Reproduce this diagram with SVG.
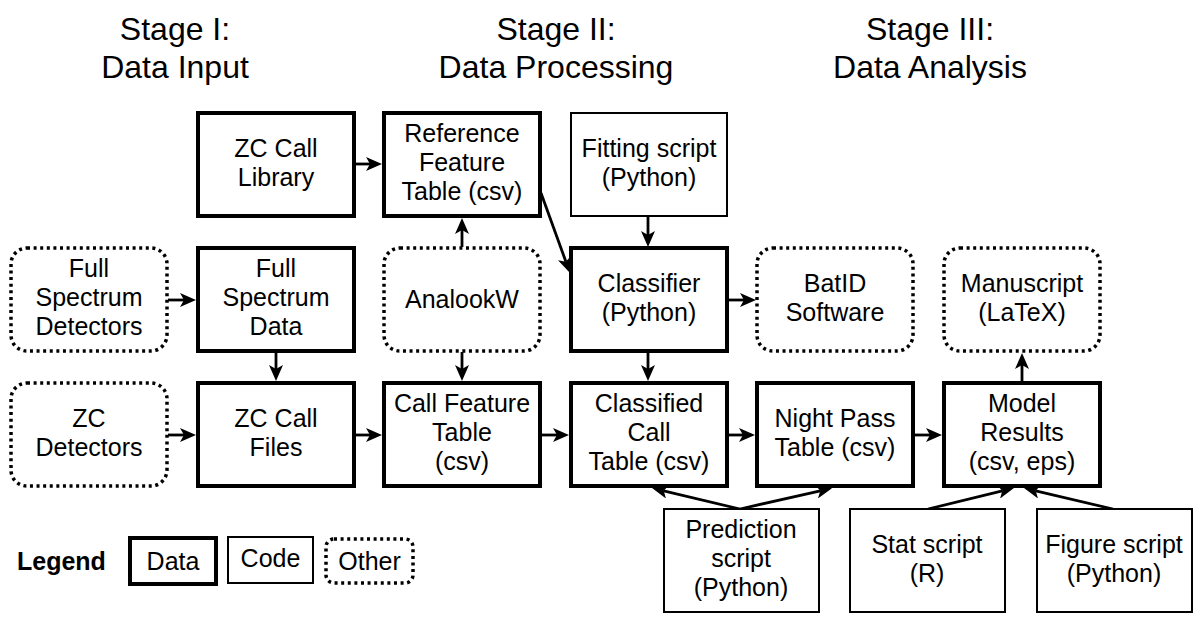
<svg xmlns="http://www.w3.org/2000/svg" width="1200" height="636" viewBox="0 0 1200 636">
<style>
text{font-family:"Liberation Sans",Arial,Helvetica,sans-serif;fill:#000;text-anchor:middle}
.t{font-size:25px}
.title{font-size:32px}
.data{fill:#fff;stroke:#000;stroke-width:4}
.code{fill:#fff;stroke:#000;stroke-width:2}
.other{fill:#fff;stroke:#000;stroke-width:3.5;stroke-dasharray:3 3.6}
.c line{stroke:#000;stroke-width:2.8;marker-end:url(#ah)}
</style>
<defs>
<marker id="ah" viewBox="0 0 16 14" refX="4" refY="7" markerWidth="16" markerHeight="14" markerUnits="userSpaceOnUse" orient="auto">
<path d="M0,0 L16,7 L0,14 L4,7 Z" fill="#000"/>
</marker>
</defs>
<rect width="1200" height="636" fill="#fff"/>
<g id="titles">
<text class="title" x="175" y="40">Stage I:</text>
<text class="title" x="175" y="78">Data Input</text>
<text class="title" x="556" y="40">Stage II:</text>
<text class="title" x="556" y="78">Data Processing</text>
<text class="title" x="930" y="40">Stage III:</text>
<text class="title" x="930" y="78">Data Analysis</text>
</g>
<g class="c" id="connectors">
<line x1="356" y1="164" x2="370" y2="164"/>
<line x1="168" y1="300" x2="184" y2="300"/>
<line x1="276" y1="353" x2="276" y2="369"/>
<line x1="168" y1="435" x2="184" y2="435"/>
<line x1="356" y1="435" x2="370" y2="435"/>
<line x1="462" y1="247" x2="462" y2="230"/>
<line x1="462" y1="352" x2="462" y2="369"/>
<line x1="542" y1="435" x2="557" y2="435"/>
<line x1="541" y1="193" x2="565.9" y2="261.7"/>
<line x1="648" y1="217" x2="648" y2="235"/>
<line x1="728" y1="300" x2="744" y2="300"/>
<line x1="648" y1="353" x2="648" y2="369"/>
<line x1="729" y1="435" x2="743" y2="435"/>
<line x1="915" y1="435" x2="930" y2="435"/>
<line x1="1022" y1="381" x2="1022" y2="365"/>
<line x1="740" y1="509" x2="663.7" y2="490.8"/>
<line x1="740" y1="509" x2="820.3" y2="490.8"/>
<line x1="928" y1="509" x2="1002.3" y2="490.8"/>
<line x1="1113" y1="509" x2="1035.7" y2="490.8"/>
</g>
<g id="zc-call-library"><rect class="data" x="198" y="113" width="156" height="103"/><text class="t" x="276" y="157">ZC Call</text><text class="t" x="276" y="186">Library</text></g>
<g id="reference-feature-table"><rect class="data" x="384" y="113" width="156" height="103"/><text class="t" x="462" y="142">Reference</text><text class="t" x="462" y="171">Feature</text><text class="t" x="462" y="200">Table (csv)</text></g>
<g id="fitting-script"><rect class="code" x="571" y="113" width="156" height="103"/><text class="t" x="649" y="157">Fitting script</text><text class="t" x="649" y="186">(Python)</text></g>
<g id="full-spectrum-detectors"><rect class="other" x="11" y="248" width="156" height="103" rx="16"/><text class="t" x="89" y="277">Full</text><text class="t" x="89" y="306">Spectrum</text><text class="t" x="89" y="335">Detectors</text></g>
<g id="full-spectrum-data"><rect class="data" x="198" y="248" width="156" height="103"/><text class="t" x="276" y="277">Full</text><text class="t" x="276" y="306">Spectrum</text><text class="t" x="276" y="335">Data</text></g>
<g id="analookw"><rect class="other" x="384" y="248" width="156" height="103" rx="16"/><text class="t" x="462" y="308">AnalookW</text></g>
<g id="classifier"><rect class="data" x="571" y="248" width="156" height="103"/><text class="t" x="649" y="292">Classifier</text><text class="t" x="649" y="321">(Python)</text></g>
<g id="batid-software"><rect class="other" x="757" y="248" width="156" height="103" rx="16"/><text class="t" x="835" y="292">BatID</text><text class="t" x="835" y="321">Software</text></g>
<g id="manuscript"><rect class="other" x="944" y="248" width="156" height="103" rx="16"/><text class="t" x="1022" y="292">Manuscript</text><text class="t" x="1022" y="321">(LaTeX)</text></g>
<g id="zc-detectors"><rect class="other" x="11" y="383" width="156" height="103" rx="16"/><text class="t" x="89" y="427">ZC</text><text class="t" x="89" y="456">Detectors</text></g>
<g id="zc-call-files"><rect class="data" x="198" y="383" width="156" height="103"/><text class="t" x="276" y="427">ZC Call</text><text class="t" x="276" y="456">Files</text></g>
<g id="call-feature-table"><rect class="data" x="384" y="383" width="156" height="103"/><text class="t" x="462" y="412">Call Feature</text><text class="t" x="462" y="441">Table</text><text class="t" x="462" y="470">(csv)</text></g>
<g id="classified-call-table"><rect class="data" x="571" y="383" width="156" height="103"/><text class="t" x="649" y="412">Classified</text><text class="t" x="649" y="441">Call</text><text class="t" x="649" y="470">Table (csv)</text></g>
<g id="night-pass-table"><rect class="data" x="757" y="383" width="156" height="103"/><text class="t" x="835" y="427">Night Pass</text><text class="t" x="835" y="456">Table (csv)</text></g>
<g id="model-results"><rect class="data" x="944" y="383" width="156" height="103"/><text class="t" x="1022" y="412">Model</text><text class="t" x="1022" y="441">Results</text><text class="t" x="1022" y="470">(csv, eps)</text></g>
<g id="prediction-script"><rect class="code" x="664" y="509" width="155" height="103"/><text class="t" x="741" y="538">Prediction</text><text class="t" x="741" y="567">script</text><text class="t" x="741" y="596">(Python)</text></g>
<g id="stat-script"><rect class="code" x="850" y="509" width="155" height="103"/><text class="t" x="927" y="553">Stat script</text><text class="t" x="927" y="582">(R)</text></g>
<g id="figure-script"><rect class="code" x="1037" y="509" width="155" height="103"/><text class="t" x="1114" y="553">Figure script</text><text class="t" x="1114" y="582">(Python)</text></g>
<g id="legend">
<text x="17" y="570" style="font-size:25px;font-weight:bold;text-anchor:start">Legend</text>
<rect class="data" x="130" y="538" width="86" height="46"/><text class="t" x="173" y="570">Data</text>
<rect class="code" x="228" y="537" width="85" height="46"/><text class="t" x="270.5" y="567">Code</text>
<rect class="other" x="326" y="539" width="87" height="44" rx="8"/><text class="t" x="369.5" y="570">Other</text>
</g>
</svg>
